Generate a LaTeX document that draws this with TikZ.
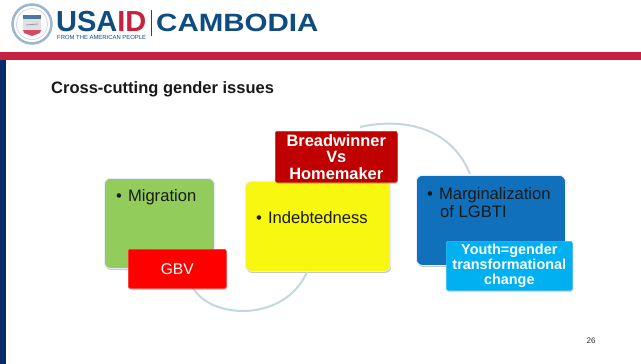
\documentclass[tikz,border=0pt]{standalone}
\usepackage{fontspec}
\setmainfont{Liberation Sans}
\usetikzlibrary{shadows,calc}
\definecolor{usablue}{HTML}{0F4C81}
\definecolor{usared}{HTML}{C8203F}
\definecolor{navy}{HTML}{0B2A6B}
\definecolor{boxgreen}{HTML}{92CD5C}
\definecolor{boxyellow}{HTML}{F7F70F}
\definecolor{boxblue}{HTML}{1070BC}
\definecolor{boxcyan}{HTML}{00B0F0}
\definecolor{boxdark}{HTML}{C00000}
\definecolor{arcgray}{HTML}{C3D8DB}
\tikzset{
  x=1pt,y=-1pt,
  card/.style={rounded corners=6pt,draw=white!92!blue,line width=0.8pt,inner sep=0pt,anchor=north west,
    drop shadow={shadow xshift=0.8pt,shadow yshift=-1.5pt,opacity=0.22,fill=black}},
  tag/.style={rounded corners=2pt,inner sep=0pt,anchor=north west,text=white,align=center,line width=0.6pt,
    drop shadow={shadow xshift=0.6pt,shadow yshift=-1.2pt,opacity=0.25,fill=black}},
  bodytext/.style={font=\fontsize{16.6}{18}\selectfont,text=black!90,align=left,anchor=north west,inner sep=0pt},
  arcline/.style={draw=arcgray,line width=2pt},
}
\begin{document}
\begin{tikzpicture}
\useasboundingbox (0,0) rectangle (641,364);
\fill[white] (0,0) rectangle (641,364);
% header
\fill[usared] (0,52) rectangle (641,60);
\fill[navy] (0,60) rectangle (6,364);
% logo
\node[circle,minimum size=39pt,inner sep=0pt,draw=usablue!40,line width=2.5pt,fill=white] (seal) at (32,24) {};
\node[circle,minimum size=31pt,inner sep=0pt,draw=usablue!20,line width=0.8pt] (sealin) at (seal.center) {};
\fill[usablue!75] (23,15) rectangle (41,19);
\fill[black!12] (23,19) rectangle (41,30);
\draw[black!40,line width=0.8pt] (26,25) -- (38,24);
\fill[usared!80] (23,30) -- (41,30) -- (40,33) -- (32,36) -- (24,33) -- cycle;
\node[anchor=base west,inner sep=0pt,font=\bfseries\fontsize{29}{29}\selectfont] (usaid) at (56,31.5) {\textcolor{usablue}{USA}\textcolor{usared}{ID}};
\node[anchor=base west,inner sep=0pt,font=\fontsize{5.9}{6}\selectfont,text=usablue] (people) at (57,39.6) {FROM THE AMERICAN PEOPLE};
\fill[usablue] (150.5,10) rectangle (151.5,36);
\node[anchor=base west,inner sep=0pt,font=\bfseries\fontsize{25}{25}\selectfont,text=usablue,xscale=1.18,transform shape] (country) at (156,31) {CAMBODIA};
% title
\node[anchor=base west,inner sep=0pt,font=\bfseries\fontsize{16.5}{19}\selectfont,text=black!90] (title) at (51,93) {Cross-cutting gender issues};
% main boxes
\node[card,fill=boxgreen,minimum width=110pt,minimum height=90pt] (green) at (104,178) {};
\node[card,fill=boxyellow,minimum width=145pt,minimum height=90pt] (yellow) at (245,181) {};
\node[card,fill=boxblue,minimum width=149pt,minimum height=90pt] (blue) at (416,175) {};
% arcs
\coordinate (arcA) at (193,288);
\coordinate (arcB) at (307,272);
\coordinate (arcC) at (360,127);
\coordinate (arcD) at (470,174);
\draw[arcline] (arcA) .. controls (212,320) and (285,322) .. (arcB);
\draw[arcline] (arcC) .. controls (400,118) and (450,125) .. (arcD);
% tags
\node[tag,fill=red,draw=red!80!white,minimum width=98pt,minimum height=39pt,font=\fontsize{15.6}{18}\selectfont] (gbv) at (128,249) {GBV};
\node[tag,fill=boxdark,draw=boxdark!80!white,minimum width=122pt,minimum height=51pt,font=\bfseries\fontsize{16.4}{16.6}\selectfont] (bread) at (275,131) {Breadwinner\\Vs\\Homemaker};
\node[tag,fill=boxcyan,draw=boxcyan!80!white,minimum width=126pt,minimum height=49pt,font=\bfseries\fontsize{14.4}{15.2}\selectfont] (youth) at (446,241) {\raisebox{-1pt}{Youth=gender}\\\raisebox{-1pt}{transformational}\\\raisebox{-1pt}{change}};
% texts
\node[bodytext] (t1) at (116,189) {•\hspace{6pt}Migration};
\node[bodytext] (t2) at (256,211) {•\hspace{6pt}Indebtedness};
\node[bodytext] (t3) at (427,187) {•\hspace{6pt}Marginalization\\\hspace{13pt}of LGBTI};
\node[anchor=center,inner sep=0pt,font=\fontsize{8}{9}\selectfont,text=black!80] (page) at (591,341) {26};
\end{tikzpicture}
\end{document}
